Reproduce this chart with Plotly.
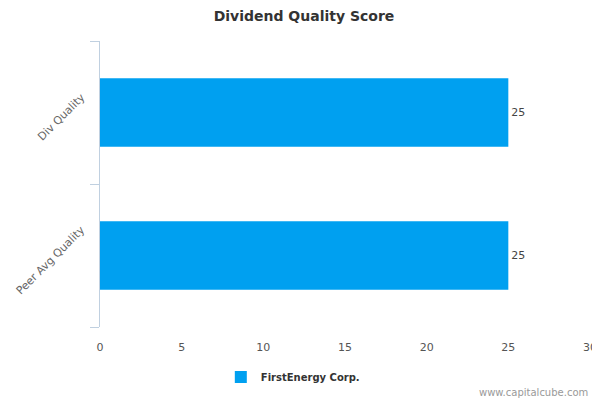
import plotly.graph_objects as go

categories = ["Div Quality", "Peer Avg Quality"]
scores = [25, 25]
series_name = "FirstEnergy Corp."
x_ticks = [0, 5, 10, 15, 20, 25, 30]

fig = go.Figure()
fig.add_trace(go.Bar(
    x=scores, y=categories, orientation="h", name="<b>" + series_name + "</b>",
    marker=dict(color="#00A0F0", line=dict(width=0)),
    text=[str(v) for v in scores], textposition="outside",
    textfont=dict(size=11, color="#444444"),
    cliponaxis=False, width=0.48,
))

# category labels, rotated and centred on each band like the original
labels = []
for c in categories:
    labels.append(dict(text=c, x=0, xref="x", y=c, yref="y", textangle=-45,
                       xanchor="right", yanchor="middle", xshift=-10, yshift=-5,
                       showarrow=False, font=dict(size=11, color="#666666")))
labels.append(dict(text="www.capitalcube.com", xref="paper", yref="paper",
                   x=1.0, y=-0.2306, xanchor="right", yanchor="middle",
                   showarrow=False, font=dict(size=10, color="#999999")))

# the page has an 8px body margin, so the figure is a bit smaller than the window
fig.update_layout(
    width=592, height=392,
    paper_bgcolor="white", plot_bgcolor="white",
    font=dict(family="DejaVu Sans", color="#666666"),
    title=dict(text="<b>Dividend Quality Score</b>", x=0.5, xanchor="center",
               yref="container", y=0.9796, yanchor="middle",
               font=dict(size=14, color="#333333")),
    margin=dict(l=92, r=10, t=33, b=73, autoexpand=False),
    showlegend=True,
    legend=dict(orientation="h", x=0.3935, xanchor="center", y=-0.1745, yanchor="middle",
                font=dict(size=10, color="#333333", family="DejaVu Sans"),
                itemwidth=30),
    xaxis=dict(range=[0, 30], tickvals=x_ticks, showgrid=False, zeroline=False,
               showline=False, ticks="outside", ticklen=10, tickcolor="rgba(0,0,0,0)",
               automargin=False, tickfont=dict(size=11, color="#555555")),
    yaxis=dict(categoryorder="array", categoryarray=categories[::-1],
               showgrid=False, zeroline=False, showline=True, linecolor="#C0D0E0",
               linewidth=1, ticks="outside", tickson="boundaries", ticklen=9,
               tickcolor="#C0D0E0", automargin=False, showticklabels=False),
    annotations=labels,
)

fig.write_html("out.html")
